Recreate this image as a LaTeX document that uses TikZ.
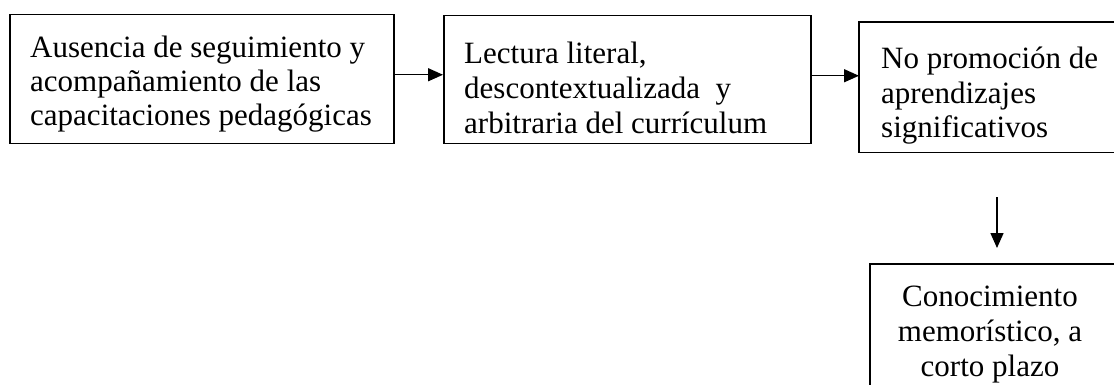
\documentclass[tikz,border=0pt]{standalone}
\usepackage{fontspec}
\setmainfont{Liberation Serif}
\usetikzlibrary{arrows.meta}
\begin{document}
\begin{tikzpicture}[x=1pt,y=1pt,
  box/.style={draw, line width=1.5pt, anchor=north west, inner sep=0pt},
  openbox/.style={line width=1.5pt},
  txt/.style={inner sep=0pt, anchor=north west, align=left},
  arr/.style={line width=1.5pt, -{Triangle[length=15pt,width=13pt]}}]
\useasboundingbox (0,0) rectangle (1114,-385);
% boxes
\node[box, minimum width=384pt, minimum height=129pt] (b1) at (9,-14) {};
\node[box, minimum width=367pt, minimum height=128pt] (b2) at (443,-15) {};
\node[box, draw=none, minimum width=300pt, minimum height=129pt] (b3) at (859,-22) {};
\node[box, draw=none, minimum width=300pt, minimum height=160pt] (b4) at (870,-264) {};
\draw[openbox] (b3.north east) -- (b3.north west) -- (b3.south west) -- (b3.south east);
\draw[openbox] (b4.north east) -- (b4.north west) -- (b4.south west);
% texts
\node[txt, font=\fontsize{31}{34}\selectfont] (t1) at (30,-36)
  {Ausencia de seguimiento y\\acompañamiento de las\\capacitaciones pedagógicas};
\node[txt, font=\fontsize{31}{35}\selectfont] (t2) at (464,-42)
  {Lectura literal,\\descontextualizada\ \ y\\arbitraria del currículum};
\node[txt, font=\fontsize{31}{34.5}\selectfont] (t3) at (881,-47)
  {No promoción de\\aprendizajes\\significativos};
\node[txt, anchor=north, align=center, font=\fontsize{31}{35}\selectfont] (t4) at (990,-286)
  {Conocimiento\\memorístico, a\\corto plazo};
% connectors
\coordinate (d1) at (997,-197);
\coordinate (d2) at (997,-248);
\draw[arr] ([yshift=4.5pt]b1.east) -- ([yshift=4.5pt]b1.east -| b2.west);
\draw[arr] ([yshift=4pt]b2.east) -- ([yshift=4pt]b2.east -| b3.west);
\draw[arr] (d1) -- (d2);
\end{tikzpicture}
\end{document}
